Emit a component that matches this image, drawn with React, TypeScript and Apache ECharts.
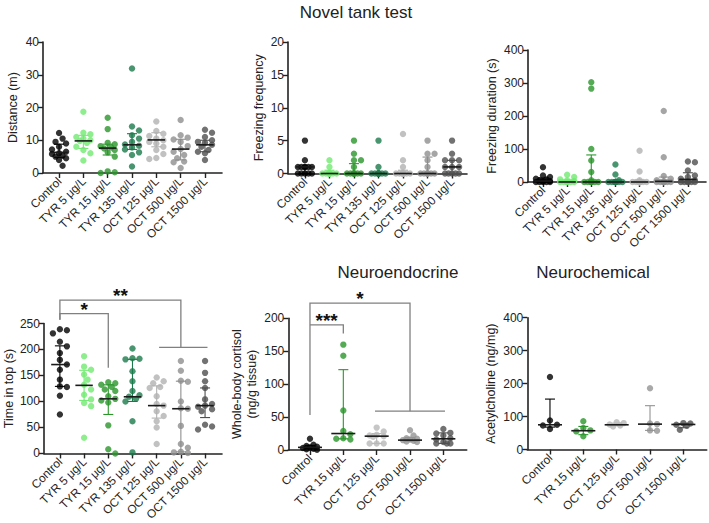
import React, { useEffect, useRef } from "react";
import * as echarts from "echarts";

const FONT = "'Liberation Sans', Arial, Helvetica, sans-serif";
const INK = "#222222";
const BRACKET = "#808080";

// ---------- categories & colours ----------
const novelCategories = ["Control", "TYR 5 μg/L", "TYR 15 μg/L", "TYR 135 μg/L", "OCT 125 μg/L", "OCT 500 μg/L", "OCT 1500 μg/L"];
const shortCategories = ["Control", "TYR 15 μg/L", "OCT 125 μg/L", "OCT 500 μg/L", "OCT 1500 μg/L"];
const novelColors = ["#000000", "#72ea72", "#2a962a", "#1b7a4b", "#b2b2b2", "#8e8e8e", "#4f4f4f"];
const shortColors = ["#000000", "#2a962a", "#b8b8b8", "#939393", "#4f4f4f"];

// ---------- Distance (m) ----------
const distanceValues = [
  [12.2, 10.5, 9.5, 9, 8, 7.2, 6.5, 6, 5.8, 5.3, 5, 4.5, 4, 2.2],
  [18.7, 12.3, 11.8, 11, 10.5, 10, 9.8, 9.2, 8, 7, 6, 3.8],
  [16.9, 13.4, 9.2, 8.8, 8.2, 7.8, 7.5, 7, 6.3, 5, 0.5, 0.2, 0],
  [31.9, 14.2, 13, 11.5, 10.5, 9.5, 8.7, 8.3, 7.8, 7.2, 6.3, 5.5, 2],
  [15.7, 12.8, 12, 11.3, 10.5, 10, 9.5, 9, 8, 7, 5.8, 4.6, 4.3],
  [16.2, 11.5, 10.8, 10.2, 9.5, 8.2, 7.3, 6.5, 5.5, 4.5, 3.5, 3.3, 1.5],
  [13.2, 12.3, 11, 10, 9.5, 9.2, 8.6, 8, 7, 6.5, 6, 4],
];
const distanceMedian = [6.3, 9.8, 7.6, 8.6, 10.1, 7.3, 8.6];
const distanceQ1 = [4.8, 7.5, 5.5, 7.2, 8, 4, 6.5];
const distanceQ3 = [8.8, 11.5, 8.8, 12, 12.3, 10.3, 10];

// ---------- Freezing frequency ----------
const frequencyValues = [
  [5, 2, 1, 1, 1, 1, 1, 1, 0, 0, 0, 0, 0],
  [2, 1, 0, 0, 0, 0, 0, 0, 0, 0, 0, 0],
  [5, 3, 2, 2, 1, 0, 0, 0, 0, 0, 0, 0, 0],
  [5, 1, 0, 0, 0, 0, 0, 0, 0, 0, 0, 0, 0],
  [6, 2, 1, 0, 0, 0, 0, 0, 0, 0, 0, 0, 0],
  [5, 3, 3, 2, 1, 0, 0, 0, 0, 0, 0, 0, 0],
  [5, 3, 2, 2, 2, 1, 1, 1, 0, 0, 0, 0, 0],
];
const frequencyMedian = [1, 0, 0, 0, 0, 0, 1];
const frequencyQ1 = [0, 0, 0, 0, 0, 0, 0];
const frequencyQ3 = [1, 0.5, 1.5, 0, 0.5, 2.5, 2];

// ---------- Freezing duration (s) ----------
const durationValues = [
  [45, 20, 15, 10, 8, 5, 3, 2, 0, 0, 0, 0, 0],
  [22, 15, 8, 5, 3, 0, 0, 0, 0, 0, 0, 0],
  [302, 283, 100, 65, 30, 5, 0, 0, 0, 0, 0, 0, 0],
  [53, 23, 5, 0, 0, 0, 0, 0, 0, 0, 0, 0, 0],
  [95, 32, 5, 0, 0, 0, 0, 0, 0, 0, 0, 0, 0],
  [215, 75, 18, 10, 5, 0, 0, 0, 0, 0, 0, 0, 0],
  [62, 60, 35, 20, 15, 10, 5, 0, 0, 0, 0, 0, 0],
];
const durationMedian = [3, 0, 0, 0, 0, 2, 8];
const durationQ1 = [0, 0, 0, 0, 0, 0, 0];
const durationQ3 = [12, 5, 82, 3, 5, 15, 28];

// ---------- Time in top (s) ----------
const timeTopValues = [
  [239, 237, 231, 215, 206, 193, 180, 171, 161, 142, 129, 128, 111, 75],
  [187, 167, 161, 152, 142, 132, 123, 113, 104, 97, 91, 30],
  [137, 135, 132, 128, 123, 120, 110, 105, 102, 98, 54, 8, 0],
  [202, 183, 182, 181, 158, 139, 120, 112, 109, 105, 100, 62, 2],
  [146, 139, 135, 128, 126, 110, 95, 92, 81, 72, 62, 50, 18],
  [178, 159, 140, 138, 100, 87, 86, 53, 18, 11, 3, 2, 1],
  [178, 155, 139, 126, 104, 95, 92, 90, 85, 81, 55, 52, 46],
];
const timeTopMedian = [171, 131, 105, 109, 92, 86, 92];
const timeTopQ1 = [129, 102, 75, 100, 68, 3, 69];
const timeTopQ3 = [207, 160, 132, 181, 130, 139, 126];

// ---------- Whole-body cortisol ----------
const cortisolValues = [
  [17, 8, 6, 5, 4, 3, 2, 1, 0.5],
  [160, 143, 60, 29, 24, 18, 17, 16],
  [34, 28, 23, 22, 21, 20, 10, 10, 10],
  [30, 22, 18, 17, 16, 15, 14, 13, 12],
  [32, 26, 25, 22, 18, 16, 12, 10, 10, 10],
];
const cortisolMedian = [4, 25, 21, 15, 17];
const cortisolQ1 = [2, 17, 10, 13, 10];
const cortisolQ3 = [7, 122, 25, 19, 26];

// ---------- Acetylcholine ----------
const acetylValues = [
  [220, 88, 75, 73, 62],
  [86, 65, 58, 55, 40],
  [83, 80, 76, 73, 70],
  [186, 79, 77, 58, 57],
  [80, 79, 75, 72, 60],
];
const acetylMedian = [75, 57, 75, 77, 76];
const acetylQ1 = [68, 45, 72, 58, 66];
const acetylQ3 = [153, 70, 80, 133, 79];

// ---------- significance annotations ----------
// [xStart, xEnd, yTop, yLeftEnd, yRightEnd, label, labelX]
const timeTopBrackets = [
  [0, 5, 295, 257, 204, "**", 2.5],
  [0, 2, 269, 257, 165, "*", 1],
];
const timeTopGroupLines = [[4.1, 6.1, 204]];
const cortisolBrackets = [
  [0, 3, 223, 53, 59, "*", 1.5],
  [0, 1, 190, 190, 177, "***", 0.5],
];
const cortisolGroupLines = [[1.95, 4.05, 59]];

// ---------- helpers ----------
function swarm(values: number[], pxPerY: number, pxPerX: number, diam: number, maxHalf: number) {
  const placed: { x: number; y: number }[] = [];
  const out: number[] = new Array(values.length).fill(0);
  const order = values.map((_, i) => i).sort((a, b) => values[b] - values[a]);
  const step = diam * 0.55;
  const cands = [0];
  for (let k = 1; k * step <= maxHalf; k++) cands.push(k * step, -k * step);
  for (const i of order) {
    const y = values[i] * pxPerY;
    let best = 0;
    let bestScore = -1;
    for (const c of cands) {
      let minD = Infinity;
      for (const p of placed) {
        const d = Math.hypot(p.x - c, p.y - y);
        if (d < minD) minD = d;
      }
      if (minD >= diam * 0.95) {
        best = c;
        break;
      }
      if (minD > bestScore) {
        bestScore = minD;
        best = c;
      }
    }
    placed.push({ x: best, y });
    out[i] = best / pxPerX;
  }
  return out;
}

type Panel = {
  cats: string[];
  colors: string[];
  values: number[][];
  median: number[];
  q1: number[];
  q3: number[];
  yMax: number;
  yInt: number;
  name: string;
  nameGap: number;
  grid: { left: number; top: number; width: number; height: number };
  xMin: number;
  xMax: number;
  brackets?: any[];
  groupLines?: number[][];
};

const panels: Panel[] = [
  {
    cats: novelCategories, colors: novelColors, values: distanceValues,
    median: distanceMedian, q1: distanceQ1, q3: distanceQ3,
    yMax: 40, yInt: 10, name: "Distance (m)", nameGap: 23,
    grid: { left: 43, top: 42, width: 179, height: 131 }, xMin: -0.66, xMax: 6.7,
  },
  {
    cats: novelCategories, colors: novelColors, values: frequencyValues,
    median: frequencyMedian, q1: frequencyQ1, q3: frequencyQ3,
    yMax: 20, yInt: 5, name: "Freezing frequency", nameGap: 22,
    grid: { left: 288, top: 42, width: 179, height: 131.5 }, xMin: -0.69, xMax: 6.61,
  },
  {
    cats: novelCategories, colors: novelColors, values: durationValues,
    median: durationMedian, q1: durationQ1, q3: durationQ3,
    yMax: 400, yInt: 100, name: "Freezing duration (s)", nameGap: 29,
    grid: { left: 528, top: 50, width: 178, height: 132 }, xMin: -0.62, xMax: 6.75,
  },
  {
    cats: novelCategories, colors: novelColors, values: timeTopValues,
    median: timeTopMedian, q1: timeTopQ1, q3: timeTopQ3,
    yMax: 250, yInt: 50, name: "Time in top (s)", nameGap: 26,
    grid: { left: 43, top: 323.5, width: 179, height: 130.7 }, xMin: -0.66, xMax: 6.7,
    brackets: timeTopBrackets, groupLines: timeTopGroupLines,
  },
  {
    cats: shortCategories, colors: shortColors, values: cortisolValues,
    median: cortisolMedian, q1: cortisolQ1, q3: cortisolQ3,
    yMax: 200, yInt: 50, name: "Whole-body cortisol\n(ng/g tissue)", nameGap: 29,
    grid: { left: 288.3, top: 318.3, width: 178.4, height: 131.7 }, xMin: -0.65, xMax: 4.7,
    brackets: cortisolBrackets, groupLines: cortisolGroupLines,
  },
  {
    cats: shortCategories, colors: shortColors, values: acetylValues,
    median: acetylMedian, q1: acetylQ1, q3: acetylQ3,
    yMax: 400, yInt: 100, name: "Acetylcholine (ng/mg)", nameGap: 29,
    grid: { left: 527.3, top: 317.7, width: 179.4, height: 131.8 }, xMin: -0.68, xMax: 4.7,
  },
];

function buildOption() {
  const grid: any[] = [];
  const xAxis: any[] = [];
  const yAxis: any[] = [];
  const series: any[] = [];

  panels.forEach((p, pi) => {
    grid.push({ ...p.grid, containLabel: false });
    const idx = p.cats.map((_, i) => i);
    xAxis.push({
      type: "value",
      gridIndex: pi,
      min: p.xMin,
      max: p.xMax,
      splitLine: { show: false },
      axisLine: { show: true, onZero: false, lineStyle: { color: INK, width: 1.6 } },
      axisTick: { show: true, customValues: idx, length: 5, lineStyle: { color: INK, width: 1.4 } },
      axisLabel: {
        show: true,
        customValues: idx,
        formatter: (v: number) => p.cats[Math.round(v)] ?? "",
        rotate: 45,
        margin: 6,
        fontSize: 11.8,
        color: INK,
        fontFamily: FONT,
      },
    });
    yAxis.push({
      type: "value",
      gridIndex: pi,
      min: 0,
      max: p.yMax,
      interval: p.yInt,
      name: p.name,
      nameLocation: "middle",
      nameGap: p.nameGap,
      nameTextStyle: { fontSize: 12.5, color: INK, fontFamily: FONT, lineHeight: 15 },
      splitLine: { show: false },
      axisLine: { show: true, onZero: false, lineStyle: { color: INK, width: 1.6 } },
      axisTick: { show: true, length: 5, lineStyle: { color: INK, width: 1.4 } },
      axisLabel: { fontSize: 12, color: INK, margin: 4, fontFamily: FONT },
    });

    const pxPerY = p.grid.height / p.yMax;
    const pxPerX = p.grid.width / (p.xMax - p.xMin);
    const points: any[] = [];
    p.values.forEach((vals, gi) => {
      const offs = swarm(vals, pxPerY, pxPerX, 6.4, 10.5);
      vals.forEach((v, k) => {
        points.push({ value: [gi + offs[k], v], itemStyle: { color: p.colors[gi] } });
      });
    });
    series.push({
      type: "scatter",
      xAxisIndex: pi,
      yAxisIndex: pi,
      symbol: "circle",
      symbolSize: 6.4,
      clip: false,
      z: 2,
      data: points,
    });

    const colors = p.colors;
    series.push({
      type: "custom",
      xAxisIndex: pi,
      yAxisIndex: pi,
      clip: false,
      z: 3,
      data: p.median.map((m, i) => [i, m, p.q1[i], p.q3[i]]),
      renderItem: (params: any, api: any) => {
        const x = api.value(0);
        const med = api.value(1);
        const lo = api.value(2);
        const hi = api.value(3);
        const color = colors[params.dataIndex];
        const pl = api.coord([x - 0.36, med]);
        const pr = api.coord([x + 0.36, med]);
        const pLo = api.coord([x, lo]);
        const pHi = api.coord([x, hi]);
        const cap = 5;
        const ws = { stroke: color, lineWidth: 1.1 };
        return {
          type: "group",
          children: [
            { type: "line", shape: { x1: pLo[0], y1: pLo[1], x2: pHi[0], y2: pHi[1] }, style: ws },
            { type: "line", shape: { x1: pHi[0] - cap, y1: pHi[1], x2: pHi[0] + cap, y2: pHi[1] }, style: ws },
            { type: "line", shape: { x1: pLo[0] - cap, y1: pLo[1], x2: pLo[0] + cap, y2: pLo[1] }, style: ws },
            { type: "line", shape: { x1: pl[0], y1: pl[1], x2: pr[0], y2: pr[1] }, style: { stroke: "#1a1a1a", lineWidth: 1.6 } },
          ],
        };
      },
    });

    if (p.brackets) {
      series.push({
        type: "custom",
        xAxisIndex: pi,
        yAxisIndex: pi,
        clip: false,
        z: 1,
        data: p.brackets,
        renderItem: (params: any, api: any) => {
          const b = p.brackets![params.dataIndex];
          const a1 = api.coord([b[0], b[3]]);
          const a2 = api.coord([b[0], b[2]]);
          const a3 = api.coord([b[1], b[2]]);
          const a4 = api.coord([b[1], b[4]]);
          const t = api.coord([b[6], b[2]]);
          return {
            type: "group",
            children: [
              {
                type: "polyline",
                shape: { points: [a1, a2, a3, a4] },
                style: { stroke: BRACKET, lineWidth: 1.3, fill: null },
              },
              {
                type: "text",
                x: t[0],
                y: t[1] + 5,
                style: {
                  text: b[5],
                  fill: "#111",
                  fontSize: 19,
                  fontWeight: "bold",
                  fontFamily: FONT,
                  align: "center",
                  verticalAlign: "bottom",
                },
              },
            ],
          };
        },
      });
    }
    if (p.groupLines) {
      series.push({
        type: "custom",
        xAxisIndex: pi,
        yAxisIndex: pi,
        clip: false,
        z: 1,
        data: p.groupLines,
        renderItem: (params: any, api: any) => {
          const g = p.groupLines![params.dataIndex];
          const s = api.coord([g[0], g[2]]);
          const e = api.coord([g[1], g[2]]);
          return {
            type: "line",
            shape: { x1: s[0], y1: s[1], x2: e[0], y2: e[1] },
            style: { stroke: BRACKET, lineWidth: 1.3 },
          };
        },
      });
    }
  });

  const titleStyle = (text: string) => ({
    text,
    fill: INK,
    fontSize: 17,
    fontFamily: FONT,
    align: "center",
    verticalAlign: "middle",
  });

  return {
    animation: false,
    backgroundColor: "#ffffff",
    grid,
    xAxis,
    yAxis,
    series,
    graphic: [
      { type: "text", x: 356, y: 12, style: titleStyle("Novel tank test") },
      { type: "text", x: 398, y: 272, style: titleStyle("Neuroendocrine") },
      { type: "text", x: 593, y: 272, style: titleStyle("Neurochemical") },
    ],
  };
}

export default function App() {
  const ref = useRef<HTMLDivElement>(null);
  useEffect(() => {
    if (!ref.current) return;
    const chart = echarts.init(ref.current, undefined, { renderer: "svg" });
    chart.setOption(buildOption() as any);
    return () => chart.dispose();
  }, []);
  return (
    <div
      ref={ref}
      style={{ position: "absolute", left: 0, top: 0, width: 709, height: 523, background: "#fff" }}
    />
  );
}
